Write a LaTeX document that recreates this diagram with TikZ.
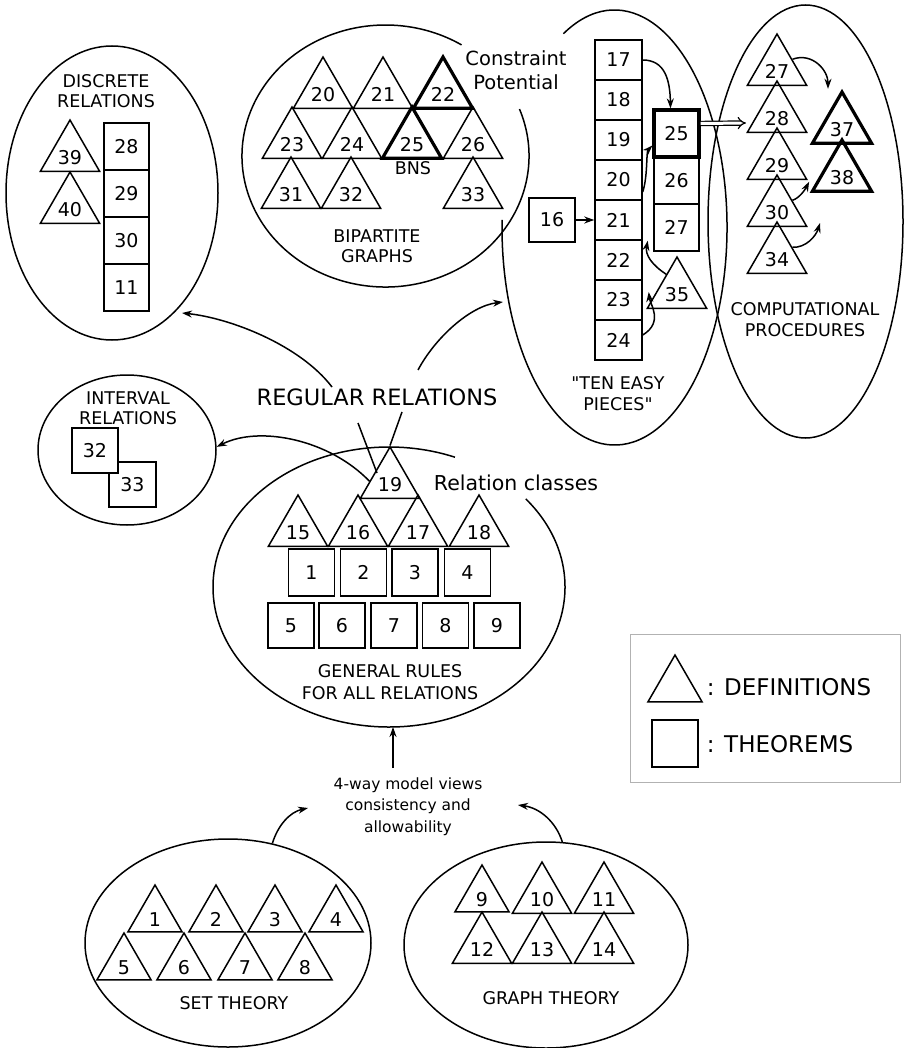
\documentclass[tikz,border=0pt]{standalone}
\usepackage{fontspec}
\setmainfont{DejaVu Sans}[Ligatures=TeXOff]
\usetikzlibrary{shapes.geometric,arrows.meta,calc}
\begin{document}
\begin{tikzpicture}[x=1pt,y=-1pt, line width=1.5pt,
  tri/.style={draw, regular polygon, regular polygon sides=3, minimum size=62.4pt, inner sep=0pt, text height=20pt, text depth=0pt, font=\fontsize{19}{19}\selectfont},
  trib/.style={tri, line width=3.2pt},
  thm/.style={draw, rectangle, minimum width=46pt, minimum height=47pt, inner sep=0pt, font=\fontsize{19}{19}\selectfont},
  thmb/.style={thm, line width=3.2pt},
  colbox/.style={thm, minimum width=47pt, minimum height=40pt},
  lbl/.style={align=center, font=\fontsize{17.5}{20.5}\selectfont, inner sep=0pt},
  oval/.style={draw, ellipse, inner sep=0pt},
  arr/.style={-{Stealth[length=10pt,width=7pt]}},
]
\fill[white] (0,0) rectangle (905,1048);
\useasboundingbox (0,0) rectangle (905,1048);

% ---------- ellipses ----------
\node[oval, minimum width=212pt, minimum height=294pt] (disc) at (112,193) {};
\node[oval, minimum width=178pt, minimum height=150pt] (intv) at (127,450) {};
\node[oval, minimum width=195pt, minimum height=433pt] (comp) at (805.5,221.5) {};
\node[oval, minimum width=286pt, minimum height=208pt] (sett) at (228,943) {};
\node[oval, minimum width=284pt, minimum height=206pt] (grph) at (546,945) {};
% bipartite (gap for label)
\draw (385.5,156) ++(-21:143.5 and 131) arc[start angle=-21, end angle=302, x radius=143.5, y radius=131];
% ten easy pieces
\draw (614.5,227.5) ++(-117:112.5 and 217.5) arc[start angle=-117, end angle=182, x radius=112.5, y radius=217.5];
% relation classes
\draw (389,587) ++(-39:176 and 140) arc[start angle=-39, end angle=292, x radius=176, y radius=140];

% ---------- discrete relations ----------
\node[lbl] (tdisc) at (106,91) {DISCRETE\\RELATIONS};
\node[tri] (d39) at (70,154.2) {39};
\node[tri] (d40) at (70,206.2) {40};
\node[thm, minimum width=45pt] (d28) at (126.5,146.5) {28};
\node[thm, minimum width=45pt] (d29) at (126.5,193.5) {29};
\node[thm, minimum width=45pt] (d30) at (126.5,240.5) {30};
\node[thm, minimum width=45pt] (d11) at (126.5,287.5) {11};

% ---------- bipartite graphs ----------
\node[tri] (g20) at (323,91.2) {20};
\node[tri] (g21) at (383,91.2) {21};
\node[trib] (g22) at (443,91.2) {22};
\node[tri] (g23) at (292,141.2) {23};
\node[tri] (g24) at (352,141.2) {24};
\node[trib] (g25) at (412,141.2) {25};
\node[tri] (g26) at (473,141.2) {26};
\node[tri] (g31) at (291,191.2) {31};
\node[tri] (g32) at (351,191.2) {32};
\node[tri] (g33) at (473,191.2) {33};
\node[lbl] (bns) at (413,168) {BNS};
\node[lbl] (tbip) at (377,246) {BIPARTITE\\GRAPHS};
\node[align=center, font=\fontsize{19.5}{24}\selectfont, inner sep=0pt] (cpot) at (516,70) {Constraint\\Potential};

% ---------- ten easy pieces ----------
\node[colbox] (b17) at (618.5,60) {17};
\node[colbox] (b18) at (618.5,100) {18};
\node[colbox] (b19c) at (618.5,140) {19};
\node[colbox] (b20) at (618.5,180) {20};
\node[colbox] (b21) at (618.5,220) {21};
\node[colbox] (b22) at (618.5,260) {22};
\node[colbox] (b23) at (618.5,300) {23};
\node[colbox] (b24) at (618.5,340) {24};
\node[thmb, minimum width=45pt] (b25) at (676.5,133.5) {25};
\node[thm, minimum width=45pt] (b26) at (676.5,180.5) {26};
\node[thm, minimum width=45pt] (b27) at (676.5,227.5) {27};
\node[thm, minimum width=46pt, minimum height=44pt] (b16) at (552,220) {16};
\node[tri] (b35) at (677,291.2) {35};
\node[lbl] (tten) at (618,393.5) {"TEN EASY\\PIECES"};

\draw[arr] (b16.east) -- (b21.west);
\draw[arr] (b17.east) .. controls (665,60) and (670,80) .. ([xshift=-6pt]b25.north);
\draw[arr] ([yshift=-12pt]b20.east) .. controls (648,175) and (646,152) .. ([yshift=-12pt]b25.west);
\coordinate (s35) at ($(b35.corner 1)!0.35!(b35.corner 2)$);
\draw[arr] (s35) .. controls (652,265) and (645,255) .. ([xshift=5pt]b21.south east);
\draw[arr] ([yshift=5pt]b24.east) .. controls (664,322) and (650,304) .. ([xshift=6pt,yshift=8pt]b23.east);
\coordinate (impTip) at (746,123);
\draw[double, double distance=3pt, line width=1.2pt, -{Implies}] ([yshift=10pt]b25.east) -- (impTip);

% ---------- computational procedures ----------
\node[tri] (c27) at (777,68.2) {27};
\node[tri] (c28) at (777,115.2) {28};
\node[tri] (c29) at (777,162.2) {29};
\node[tri] (c30) at (777,209.2) {30};
\node[tri] (c34) at (777,256.2) {34};
\node[trib] (c37) at (842,126.2) {37};
\node[trib] (c38) at (842,174.2) {38};
\node[lbl] (tcomp) at (805,319.5) {COMPUTATIONAL\\PROCEDURES};
\draw[arr] ($(c27.corner 1)!0.5!(c27.corner 3)$) .. controls (812,52) and (828,70) .. ([xshift=-14pt]c37.corner 1);
\coordinate (t38) at ($(c38.corner 1)!0.8!(c38.corner 2)+(-7,0)$);
\draw[arr] ($(c30.corner 1)!0.5!(c30.corner 3)$) .. controls (800,198) and (806,188) .. (t38);
\coordinate (t34) at (820,223);
\draw[arr] ($(c34.corner 1)!0.5!(c34.corner 3)$) .. controls (806,248) and (816,236) .. (t34);

% ---------- regular relations ----------
\node[font=\fontsize{22.5}{22.5}\selectfont, inner sep=0pt] (rr) at (377,397) {REGULAR RELATIONS};
\coordinate (rrA) at (332,387);
\coordinate (discTip) at (182,313);
\coordinate (rrB) at (418,370);
\coordinate (tepTip) at (503,302);
\draw[arr] (rrA) .. controls (300,345) and (230,318) .. (discTip);
\draw[arr] (rrB) .. controls (435,338) and (470,306) .. (tepTip);

% ---------- interval relations ----------
\node[lbl] (tint) at (128,408) {INTERVAL\\RELATIONS};
\node[thm, minimum width=47pt, minimum height=45pt] (i33) at (132.5,484.5) {33};
\node[thm, minimum width=46pt, minimum height=45pt, fill=white] (i32) at (95,450.5) {32};

% ---------- relation classes ----------
\node[tri] (r19) at (390,481.2) {19};
\node[tri] (r15) at (298,529.2) {15};
\node[tri] (r16) at (358,529.2) {16};
\node[tri] (r17) at (418,529.2) {17};
\node[tri] (r18) at (479,529.2) {18};
\node[thm] (r1) at (311.5,572.5) {1};
\node[thm] (r2) at (363.5,572.5) {2};
\node[thm] (r3) at (415,572.5) {3};
\node[thm] (r4) at (467.5,572.5) {4};
\node[thm, minimum height=45pt] (r5) at (291,625.5) {5};
\node[thm, minimum height=45pt] (r6) at (342,625.5) {6};
\node[thm, minimum height=45pt] (r7) at (394,625.5) {7};
\node[thm, minimum height=45pt] (r8) at (445.5,625.5) {8};
\node[thm, minimum height=45pt] (r9) at (497,625.5) {9};
\node[font=\fontsize{20.5}{20.5}\selectfont, inner sep=0pt] (rcl) at (516,483) {Relation classes};
\node[lbl, font=\fontsize{17.5}{22}\selectfont] (tgen) at (390,682.5) {GENERAL RULES\\FOR ALL RELATIONS};

\coordinate (rrC) at (402,412);
\coordinate (rrD) at (358,423);
\coordinate (rrDend) at (377,473);
\draw (rrC) -- (r19.corner 1);
\draw (rrD) -- (rrDend);
\draw[arr] (r19.west) .. controls (330,440) and (260,425) .. (intv.2);

% ---------- foundations ----------
\node[align=center, font=\fontsize{15.5}{21.5}\selectfont, inner sep=0pt] (fw) at (408,806.5) {4-way model views\\consistency and\\allowability};
\coordinate (fwTop) at (393,768);
\coordinate (rcBot) at (393,727);
\coordinate (fwL) at (308,808);
\coordinate (fwR) at (518,805);
\draw[arr] (fwTop) -- (rcBot);
\draw[arr] (sett.66) .. controls (278,825) and (290,812) .. (fwL);
\draw[arr] (grph.81) .. controls (556,822) and (540,808) .. (fwR);

\node[tri] (s1) at (155,916.2) {1};
\node[tri] (s2) at (216,916.2) {2};
\node[tri] (s3) at (275,916.2) {3};
\node[tri] (s4) at (336,916.2) {4};
\node[tri] (s5) at (124,964.2) {5};
\node[tri] (s6) at (184,964.2) {6};
\node[tri] (s7) at (245,964.2) {7};
\node[tri] (s8) at (305,964.2) {8};
\node[lbl] (tset) at (234,1003) {SET THEORY};

\node[tri] (h9) at (482,896.2) {9};
\node[tri] (h10) at (542,896.2) {10};
\node[tri] (h11) at (604,896.2) {11};
\node[tri] (h12) at (482,946.2) {12};
\node[tri] (h13) at (542,946.2) {13};
\node[tri] (h14) at (604,946.2) {14};
\node[lbl] (tgraph) at (551,998) {GRAPH THEORY};

% ---------- legend ----------
\draw[gray!60, line width=1pt] (630,634) rectangle (900,782);
\node[tri] (ltri) at (675,686.2) {};
\node[thm] (lsq) at (675,743.5) {};
\node[anchor=west, font=\fontsize{23}{23}\selectfont, inner sep=0pt] (ldef) at (706,687) {: DEFINITIONS};
\node[anchor=west, font=\fontsize{23}{23}\selectfont, inner sep=0pt] (lthm) at (706,744) {: THEOREMS};
\end{tikzpicture}
\end{document}
